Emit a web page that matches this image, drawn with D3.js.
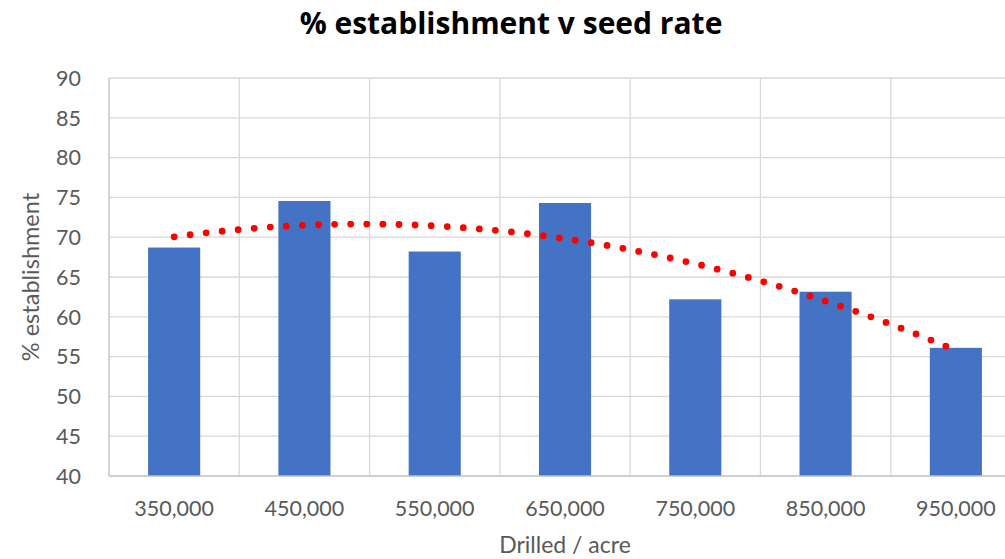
<!DOCTYPE html>
<html><head><meta charset="utf-8">
<script src="https://cdn.jsdelivr.net/npm/d3@7"></script>
<style>body{margin:0;background:#fff}svg{display:block}</style>
</head><body>
<script>
const categories = ["350,000","450,000","550,000","650,000","750,000","850,000","950,000"];
const values = [68.7, 74.55, 68.2, 74.3, 62.2, 63.15, 56.1];
const yTicks = [40,45,50,55,60,65,70,75,80,85,90];
const title = "% establishment v seed rate";
const xTitle = "Drilled / acre";
const yTitle = "% establishment";

const W = 1005, H = 559;
const m = {left:109, top:78, right:1021, bottom:476};
const svg = d3.select("body").append("svg").attr("width",W).attr("height",H);
const font = "Lato, 'Open Sans', sans-serif";

const x = d3.scaleBand().domain(categories).range([m.left, m.right]).paddingInner(0.6).paddingOuter(0.3);
const xb = d3.scaleBand().domain(categories).range([m.left, m.right]);
const y = d3.scaleLinear().domain([40,90]).range([m.bottom, m.top]);

svg.append("g").selectAll("line").data(yTicks.slice(1)).join("line")
  .attr("x1", m.left).attr("x2", m.right).attr("y1", d=>y(d)).attr("y2", d=>y(d))
  .attr("stroke","#d9d9d9").attr("stroke-width",1.3);
svg.append("g").selectAll("line").data(categories.slice(1)).join("line")
  .attr("x1", d=>xb(d)).attr("x2", d=>xb(d)).attr("y1", m.top).attr("y2", m.bottom)
  .attr("stroke","#d9d9d9").attr("stroke-width",1.3);

svg.append("g").selectAll("rect").data(values).join("rect")
  .attr("x",(d,i)=>x(categories[i])).attr("width",x.bandwidth())
  .attr("y",d=>y(d)).attr("height",d=>y(40)-y(d)).attr("fill","#4472c4");

svg.append("line").attr("x1",m.left).attr("x2",m.left).attr("y1",m.top).attr("y2",m.bottom)
  .attr("stroke","#bfbfbf").attr("stroke-width",1.3);
svg.append("line").attr("x1",m.left).attr("x2",m.right).attr("y1",m.bottom).attr("y2",m.bottom)
  .attr("stroke","#bfbfbf").attr("stroke-width",1.3);

// quadratic trendline: least squares fit of the bar values (Excel polynomial trendline, order 2)
const n = values.length;
const X = d3.range(1,n+1);
function polyfit2(xs, ys){
  let S=[0,0,0,0,0], T=[0,0,0];
  xs.forEach((xv,i)=>{ for(let k=0;k<5;k++) S[k]+=Math.pow(xv,k); for(let k=0;k<3;k++) T[k]+=ys[i]*Math.pow(xv,k); });
  const A=[[S[0],S[1],S[2],T[0]],[S[1],S[2],S[3],T[1]],[S[2],S[3],S[4],T[2]]];
  for(let i=0;i<3;i++){ for(let j=i+1;j<3;j++){ const f=A[j][i]/A[i][i]; for(let k=i;k<4;k++) A[j][k]-=f*A[i][k]; } }
  const c=[0,0,0];
  for(let i=2;i>=0;i--){ let s=A[i][3]; for(let k=i+1;k<3;k++) s-=A[i][k]*c[k]; c[i]=s/A[i][i]; }
  return c;
}
const cf = polyfit2(X, values);
const xc = d3.scaleLinear().domain([1,n]).range([x(categories[0])+x.bandwidth()/2, x(categories[n-1])+x.bandwidth()/2]);
const trend = d3.range(1, n+0.0001, 0.05).map(t=>[xc(t), y(cf[0]+cf[1]*t+cf[2]*t*t)]);
svg.append("path").attr("d", d3.line()(trend)).attr("fill","none")
  .attr("stroke","#ff0000").attr("stroke-width",6.8).attr("stroke-linecap","round")
  .attr("stroke-dasharray","0 16.1");

svg.append("g").selectAll("text").data(yTicks).join("text")
  .attr("x",81).attr("y",d=>y(d)).attr("dy","0.36em").attr("text-anchor","end")
  .attr("font-family",font).attr("font-size",21.5).attr("fill","#595959").text(d=>d);
svg.append("g").selectAll("text").data(categories).join("text")
  .attr("x",d=>xb(d)+xb.bandwidth()/2).attr("y",508).attr("dy","0.36em").attr("text-anchor","middle")
  .attr("font-family",font).attr("font-size",21.5).attr("fill","#595959").text(d=>d);

svg.append("text").attr("x",511).attr("y",34).attr("text-anchor","middle")
  .attr("font-family","'Open Sans', sans-serif").attr("font-weight","bold").attr("font-size",30).attr("fill","#000").text(title);
svg.append("text").attr("x",(m.left+m.right)/2).attr("y",545).attr("dy","0.36em").attr("text-anchor","middle")
  .attr("font-family",font).attr("font-size",23).attr("fill","#595959").text(xTitle);
svg.append("text").attr("transform",`translate(31,${(m.top+m.bottom)/2}) rotate(-90)`).attr("dy","0.36em")
  .attr("text-anchor","middle").attr("font-family",font).attr("font-size",23.5).attr("fill","#595959").text(yTitle);
</script>
</body></html>
